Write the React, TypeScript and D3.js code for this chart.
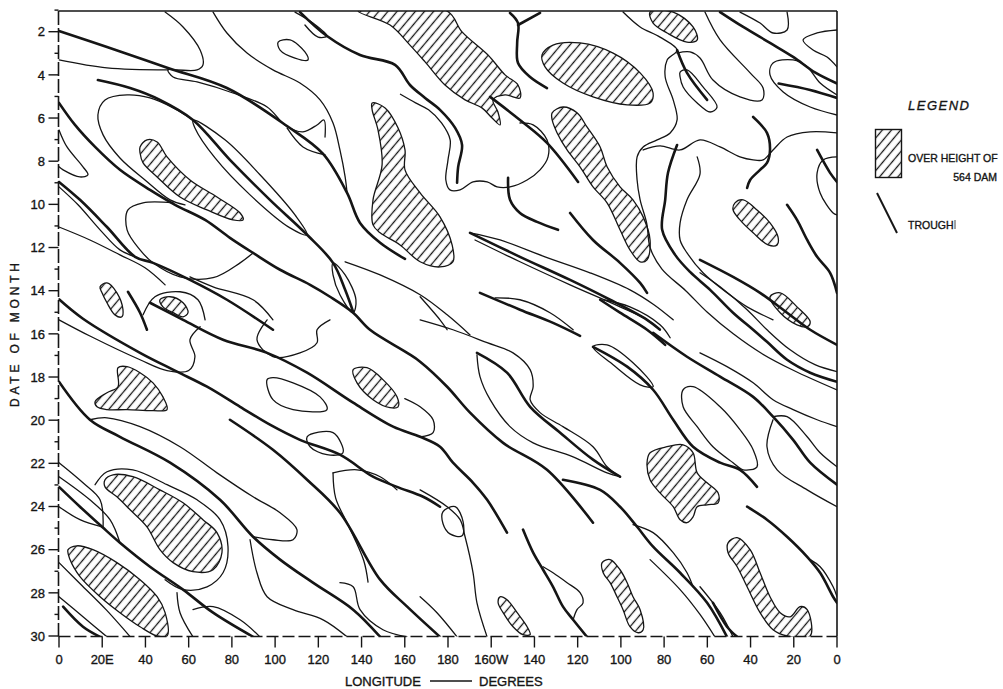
import * as d3 from "d3";

type Pt = [number, number]; // [longitude east 0..360, date of month]

const longitudeTicks = d3.range(0, 361, 20);
const longitudeLabels = ["0", "20E", "40", "60", "80", "100", "120", "140", "160", "180", "160W", "140", "120", "100", "80", "60", "40", "20", "0"];
const dateTicks = d3.range(1, 31);
const dateLabels = d3.range(2, 31, 2);

// bold lines: troughs
const troughLines: Pt[][] = [
  [[0, 1.97], [22.2, 2.71], [50.4, 3.68], [77.7, 4.61], [105.5, 6.37], [122.2, 7.66], [133.3, 9.47], [139.3, 10.86], [148.6, 11.78], [160.1, 12.53]],
  [[111.5, 1.09], [124, 2.2], [139.3, 3.08], [155.5, 3.54], [162.4, 4.47], [169.4, 5.07], [176.3, 5.62], [183.3, 6.46], [186.5, 7.25], [184.7, 8.26], [184.2, 9.0]],
  [[18, 4.24], [32.9, 4.61], [46.7, 5.16], [62, 6.09], [79.1, 7.94], [97.6, 9.79], [114.8, 11.41], [126.8, 12.71], [132.4, 13.96], [136.1, 14.98]],
  [[0, 5.3], [7.4, 6.32], [16.7, 7.34], [28.2, 8.4], [42.1, 9.33], [53.7, 10.02], [67.6, 10.72], [79.1, 11.55], [89.8, 12.25], [102.3, 13.03], [116.2, 13.73], [125.4, 14.28], [136.1, 15.02], [143.9, 15.81], [161.1, 16.88], [167.1, 17.29], [179.6, 18.45], [190.2, 19.65], [205.5, 21.05], [225.8, 22.3], [247.1, 24.75]],
  [[0, 8.96], [9.7, 9.79], [22.2, 11.05], [35.2, 12.43], [43.5, 12.71], [60.6, 13.5], [77.7, 14.42], [99, 15.81]],
  [[31.9, 14.05], [37.5, 15.02], [40.7, 15.81]],
  [[199.5, 5.02], [213.3, 6.09], [225.8, 7.15], [240.2, 8.96]],
  [[207.8, 8.77], [208.7, 9.79], [213.3, 10.4], [221.2, 10.81], [230.9, 11.18]],
  [[208.7, 1.13], [212.4, 1.6], [212, 2.52], [212.4, 3.45], [218, 4.1], [225.8, 4.61]],
  [[222.6, 1.13], [212.4, 1.69]],
  [[286, 2.85], [290.6, 3.91], [299.9, 5.16]],
  [[305.9, 1.09], [316.6, 1.78], [329, 2.52], [339.7, 3.17], [350, 3.9], [360, 4.4]],
  [[333, 4.4], [347.6, 4.7], [360, 5.07]],
  [[321.2, 5.95], [327.6, 6.69], [329, 7.48], [327.6, 8.08], [324.4, 8.4], [319.8, 8.87], [318.4, 9.24]],
  [[350.8, 7.48], [356.8, 8.54], [360, 8.96]],
  [[336.9, 10.02], [341.5, 10.72], [346.2, 11.65], [350.8, 12.43], [356.8, 13.17], [360, 14.1]],
  [[296.6, 12.57], [311.9, 13.36], [324.4, 14.1], [336.9, 15.02], [347.6, 15.81], [360, 16.51]],
  [[286, 7.25], [281.8, 8.54], [280.5, 9.79], [279.1, 11.18], [285.1, 12.34], [292, 13.13], [301.3, 13.96], [311.9, 15.02], [321.2, 15.81], [327.6, 16.37], [336.9, 17.2], [347.6, 17.8], [360, 18.22]],
  [[236.5, 10.4], [247.1, 11.65], [259.6, 12.71], [268.9, 13.64], [272.1, 14.1]],
  [[190.2, 11.32], [213.3, 12.43], [236.5, 13.5], [255, 14.42], [272.1, 15.35], [278, 15.8]],
  [[194.8, 14.1], [213.3, 14.88], [228.6, 15.49], [241.1, 16.09]],
  [[250.4, 14.42], [259.6, 15.02], [272.1, 15.81], [280.5, 16.51]],
  [[42.1, 14.56], [57.4, 15.35], [75.9, 16.27], [96.3, 16.88], [114.8, 17.8], [136.1, 19.19], [154.6, 20.3], [167.1, 20.77], [176.3, 21.23], [182.3, 21.97], [191.6, 22.9], [198.1, 23.69], [207.3, 25.21]],
  [[0, 14.4], [11.1, 15.3], [37.5, 16.88], [54.6, 17.75], [68.5, 18.45], [83.8, 19.38], [97.6, 20.21], [111.5, 20.91], [130, 21.6], [145.3, 22.62], [156.4, 23.09], [168.5, 23.55], [176.3, 24.01]],
  [[0, 18.22], [14.3, 19.98], [28.2, 20.77], [51.4, 21.97], [74.5, 23.69], [89.8, 25.4], [102.3, 26.46], [117.5, 27.53], [136.1, 28.78], [148.6, 30.04]],
  [[0, 23.09], [9.7, 24.01], [19.9, 24.94], [28.2, 25.68], [42.1, 26.79], [57.4, 27.85], [71.3, 28.92], [89.8, 30.04]],
  [[1.9, 28.64], [11.1, 29.57], [19, 30.04]],
  [[79.1, 19.98], [99, 21.37], [114.8, 22.76], [130, 24.29], [148.6, 27.39], [161.1, 28.64], [176.3, 30.04]],
  [[193.4, 16.88], [207.3, 17.8], [218, 19.38], [231.9, 20.58], [247.1, 21.83], [259.6, 22.62]],
  [[214.7, 25.07], [219.4, 26.14], [224, 26.93], [228.6, 27.72], [233.2, 28.64], [237.9, 29.25], [244.3, 30.04]],
  [[233.2, 22.76], [250.4, 23.23], [259.6, 24.01], [267.5, 24.94], [274.9, 25.86], [287.4, 27.07], [299.9, 28.46], [309.1, 30.04]],
  [[247.1, 16.6], [262.9, 17.52], [274.9, 18.59], [284.2, 19.98], [293.4, 21.23], [305.9, 21.97], [315.1, 22.3], [323, 23.09]],
  [[274.9, 15.95], [290.6, 17.06], [305.9, 17.98], [321.2, 18.92], [330.4, 19.84], [339.7, 20.91], [347.6, 21.97], [360, 22.99]],
  [[318.4, 24.01], [327.6, 24.61], [336.9, 25.4], [346.2, 26.33], [352.2, 27.07], [358.2, 28.18], [360, 28.46]],
  [[302.6, 28.46], [309.1, 29.57], [313.8, 30.04]],
];

// thin open contours
const contourLines: Pt[][] = [
  [[0, 3.31], [22.2, 3.68], [50.4, 3.77]],
  [[49.1, 1.09], [57.4, 1.78], [65.3, 2.85], [66.6, 3.54], [63.9, 3.77], [54.6, 3.77], [50.4, 3.77], [52.8, 4.1], [63.9, 4.33], [80.5, 4.84], [96.3, 5.49], [105.1, 6.37], [112.9, 6.64], [119.4, 6.32], [122.6, 6.09], [123.1, 6.88]],
  [[105.5, 6.46], [112.9, 7.34], [123.1, 7.71]],
  [[71.3, 1.09], [77.7, 2.06], [87, 2.99], [99, 3.77], [111.5, 4.38], [120.8, 5.16], [126.8, 6.23], [130, 7.48], [132.4, 8.73], [133.3, 9.47]],
  [[109.2, 1.09], [117.5, 1.6], [124, 2.2], [119.9, 2.25], [113.8, 1.69]],
  [[62, 6.09], [52.8, 5.53], [42.1, 5.07], [31.5, 4.93], [21.3, 5.16], [18, 5.86], [20.4, 6.78], [28.2, 7.85], [39.8, 8.87], [51.4, 9.79], [58.3, 10.02]],
  [[0, 6.55], [3.7, 7.34], [11.1, 8.26], [13.4, 8.63], [9.7, 8.73], [1.9, 8.4], [0, 8.26]],
  [[0, 9.19], [8.8, 10.02], [19, 11.18], [28.2, 12.11], [35.2, 12.43]],
  [[0, 11.05], [14.3, 11.65], [28.2, 12.34], [39.8, 12.94], [49.1, 13.73]],
  [[52.8, 9.93], [38.9, 9.93], [31.9, 10.26], [31.5, 11.18], [37.5, 12.11], [43.5, 12.71], [56, 13.36], [71.3, 13.4], [83.8, 12.71], [89.8, 12.25]],
  [[60.6, 13.36], [71.3, 13.82], [89.8, 14.42], [99, 15.35]],
  [[38.9, 15.12], [44.4, 14.28], [56, 14.05], [64.3, 14.42], [67.6, 15.35]],
  [[213.3, 6.23], [219.4, 6.32], [225.8, 7.01], [226.3, 7.8], [222.6, 8.4], [216.6, 8.87], [208.7, 9.19], [202.7, 9.19], [198.1, 8.96], [191.6, 8.96], [185.6, 9.33], [180.9, 9.33], [179, 8.87], [180, 7.94], [181, 7.01], [177, 6.23], [171, 5.62], [165, 5.3], [158, 4.9]],
  [[261, 1.09], [268.9, 1.78], [278.1, 2.25], [286, 2.85], [281.4, 3.31], [280.5, 4.1], [284.2, 5.16], [286, 6.09], [282.8, 6.69], [276.8, 7.01], [270.3, 7.34], [267.5, 7.8], [267.5, 8.87], [268.9, 9.79], [272, 10.9], [273.5, 12], [279, 13], [290, 14], [300, 15], [312, 16], [325, 16.9], [340, 17.7], [360, 18.6]],
  [[286, 2.99], [292, 2.94], [296.6, 3.22], [302.6, 4.24], [315.1, 5.02], [325.3, 5.16], [325.8, 4.61], [319.8, 3.91], [305.9, 2.38], [298.9, 1.09]],
  [[315.1, 1.09], [324.4, 1.6], [330.4, 2.06], [336.9, 1.92], [336.9, 1.09]],
  [[360, 1.92], [350.8, 2.06], [344.3, 2.38], [348.9, 2.85], [355.4, 3.17], [360, 3.63]],
  [[360, 4.93], [352.2, 4.38], [346.2, 3.63], [339.7, 3.31], [330.4, 3.45], [329, 4.0], [335.1, 4.79], [347.6, 5.49], [360, 5.86]],
  [[270.3, 7.48], [278.1, 7.29], [287.4, 7.48], [296.6, 7.01], [305.9, 7.34], [315.1, 7.8], [321.2, 7.94], [325.8, 7.94], [330.4, 7.48], [336.9, 6.88], [347.6, 6.64], [360, 6.69]],
  [[360, 7.8], [353.6, 7.94], [350.8, 8.54], [352.2, 9.47], [358.2, 10.4], [360, 10.49]],
  [[295.3, 7.8], [296.6, 8.6], [290.6, 9.79], [287.4, 10.86], [287.4, 11.65], [290.6, 12.25], [298, 13.17], [309.1, 14.1], [318.4, 14.75], [330.4, 15.35]],
  [[296.6, 13.17], [305.9, 13.82], [318.4, 14.88], [327.6, 15.81], [338.3, 16.74], [349.8, 17.43], [360, 17.75]],
  [[190.2, 11.32], [204.1, 11.65], [224.9, 12.43], [245.7, 13.17], [264.2, 13.96], [275.3, 14.65], [284.2, 15.35]],
  [[192.5, 11.65], [213.3, 12.66], [236.5, 13.73], [259.6, 14.75], [272.1, 15.35], [278, 15.8]],
  [[201.8, 14.33], [213.3, 14.42], [227.2, 15.02], [237.9, 15.81]],
  [[251.8, 14.42], [264.2, 14.75], [278.1, 15.58], [282.8, 16.18]],
  [[132.4, 12.66], [148.6, 13.27], [167.1, 14.19], [179.6, 15.12], [190.2, 16.05]],
  [[167.1, 14.28], [176.3, 15.35], [179.6, 15.81]],
  [[0, 15.35], [14.3, 16.1], [37.5, 17.2], [50, 17.7], [60, 17.7], [62.9, 17.06], [60.6, 16.27], [65.3, 15.67]],
  [[14.3, 19.98], [22.2, 19.89], [37.5, 20.3], [56, 21.23], [73.1, 22.44], [89.8, 23.55], [102.3, 24.29], [110.1, 25.07], [108.3, 25.54], [99, 25.54], [89.8, 25.4]],
  [[16.7, 22.99], [22.2, 22.39], [34.2, 22.3], [50, 22.99], [63.9, 23.69], [74.5, 24.61], [78.2, 25.86], [75.9, 27.07], [68.5, 27.72], [57.4, 27.85], [49.1, 27.39]],
  [[0, 21.97], [11.1, 22.9], [19, 23.69], [20.4, 24.94]],
  [[0, 22.62], [14.3, 23.69], [23.6, 24.61], [28.2, 25.68]],
  [[0, 24.01], [9.7, 24.61], [19.9, 24.94]],
  [[0, 28.18], [11.1, 29.11], [22.2, 30.04]],
  [[0, 26.6], [10, 27.6], [22, 28.8], [33, 30.04]],
  [[62, 28.78], [71.3, 28.64], [83.8, 29.25], [93, 30.04]],
  [[54.6, 27.99], [56, 28.92], [62, 30.04]],
  [[88.4, 25.54], [91.6, 27.07], [96.3, 28.18], [108.3, 28.78], [122.2, 29.25], [133.3, 30.04]],
  [[130, 27.53], [136.1, 27.72], [139.3, 28.78], [149.9, 29.71], [161.1, 30.04]],
  [[126.8, 22.44], [128, 23.6], [134, 24.9], [141, 26.5], [143, 27.5]],
  [[126.8, 22.44], [137.9, 22.3], [148.6, 22.62], [156.4, 23.23]],
  [[96.3, 15.35], [91.6, 16.27], [99, 17.06], [111.5, 16.88], [119.4, 16.41], [119.4, 15.81], [125.4, 15.35]],
  [[167.1, 15.35], [182.3, 15.81], [198.1, 16.41], [210.1, 16.88], [218, 17.66], [219.4, 18.45], [218, 19.05], [222.6, 19.65], [233.2, 20.3], [247.1, 21.23], [253.6, 22.16], [259.6, 22.62]],
  [[193.4, 16.97], [194.8, 17.98], [199.5, 19.05], [208.7, 20.3], [219.4, 21.05], [237.9, 21.7], [253.6, 22.44], [259.6, 22.62]],
  [[167.1, 23.23], [179.6, 24.01], [185.6, 24.61], [187.9, 25.4], [191.6, 27.07], [193.4, 28.46], [198.1, 30.04]],
  [[160, 19.0], [167.1, 19.38], [173.1, 19.98], [173.1, 20.58], [167.1, 20.77]],
  [[224, 26.79], [228.6, 27.07], [235.1, 27.53], [241.1, 27.99], [242.5, 28.46], [239.7, 28.78], [237.9, 29.25]],
  [[265.6, 24.84], [274.9, 25.21], [284.2, 26.14], [290.6, 27.07], [293.4, 27.72]],
  [[330.4, 19.84], [336.9, 19.84], [346.2, 20.77], [352.2, 21.51], [360, 22.16]],
  [[330.4, 19.98], [327.6, 21.23], [332.3, 22.3], [346.2, 23.23], [360, 24.01]],
  [[296.6, 16.88], [309.1, 17.52], [321.2, 18.27], [330.4, 19.05], [339.7, 19.51], [350.8, 19.98], [360, 20.3]],
  [[347.6, 26.46], [352.2, 26.79], [358.2, 27.72], [360, 28.18]],
  [[167.1, 28.18], [174.9, 28.92], [184.2, 30.04]],
  [[296.6, 27.72], [305.9, 28.92], [311.9, 30.04]],
  [[273.5, 26.46], [287.4, 27.85], [296.6, 29.0], [303.5, 30.04]],
];

// thin closed contours
const closedContours: Pt[][] = [
  [[101.4, 2.48], [106.9, 2.38], [113.8, 2.94], [115.2, 3.31], [109.2, 3.22], [102.3, 2.85]],
  [[62, 6.09], [76.8, 7.01], [93, 8.63], [109.2, 10.49], [114.8, 11.41], [106.9, 11.09], [88.4, 9.56], [72.2, 7.85], [62.9, 6.46]],
  [[126.8, 12.71], [132.4, 13.27], [137.4, 14.42], [136.1, 15.02], [130, 14.19], [126.8, 13.27]],
  [[287.4, 3.87], [290.6, 3.77], [298, 4.56], [304.5, 5.49], [301.3, 5.72], [295.3, 5.3], [288.8, 4.56], [287.4, 4.1]],
  [[96.3, 18.12], [99, 19.05], [108.3, 19.51], [124, 19.51], [120.8, 18.92], [108.3, 18.27], [99, 18.03]],
  [[114.8, 20.77], [126.8, 20.58], [131.4, 21.51], [124, 21.6], [116.2, 21.23]],
  [[177.7, 24.24], [183.3, 24.01], [187, 24.71], [186.5, 25.36], [180.9, 25.27], [177.7, 24.8]],
  [[247.1, 16.6], [253.6, 16.51], [265.6, 17.34], [274.9, 18.45], [268.9, 18.36], [256.4, 17.43]],
  [[288.8, 18.59], [293.4, 18.45], [305.9, 19.38], [315.1, 20.44], [321.2, 21.37], [323, 22.16], [316.6, 22.3], [311.9, 21.97], [302.6, 21.23], [295.3, 20.3], [288.8, 19.38]],
];

// hatched: over height of 564 dam
const hatchedAreas: Pt[][] = [
  [[138.4, 1.04], [153.2, 1.69], [162.4, 2.62], [169.4, 3.4], [178.6, 4.47], [187.9, 5.16], [195.7, 5.53], [200.4, 6.0], [204.1, 6.32], [203.1, 5.72], [200.8, 5.16], [206.4, 4.93], [213.3, 5.07], [212.4, 4.47], [206.4, 4.0], [198.5, 3.08], [186.5, 2.01], [179.5, 1.04]],
  [[144.9, 5.3], [150.9, 5.53], [156.9, 6.46], [160.1, 7.48], [160.1, 8.4], [167.1, 9.47], [176.3, 10.58], [181.9, 11.88], [182.3, 12.66], [176.3, 12.9], [167.1, 12.66], [157.8, 11.88], [148.6, 11.32], [145.3, 10.95], [145.3, 9.79], [149.5, 8.17], [147.6, 6.55], [144.9, 5.62]],
  [[37.5, 7.34], [40.7, 7.01], [45.4, 7.11], [50, 7.8], [60.6, 8.87], [73.1, 9.66], [83.8, 10.4], [85.2, 10.72], [80.5, 10.72], [68.5, 10.26], [56, 9.66], [45.4, 8.73], [38.9, 8.08], [37.5, 7.62]],
  [[223.5, 3.08], [228.6, 2.62], [241.1, 2.52], [256.4, 2.99], [268.9, 3.91], [274.9, 4.84], [273.5, 5.3], [262.9, 5.39], [247.1, 5.02], [233.2, 4.38], [224.9, 3.63]],
  [[228.2, 5.76], [233.2, 5.49], [239.7, 5.76], [244.3, 6.41], [250.4, 7.34], [253.6, 8.26], [259.6, 9.19], [265.6, 9.79], [270.3, 10.58], [273.5, 11.65], [272.1, 12.57], [268.9, 12.66], [264.2, 12.11], [259.6, 11.18], [253.6, 9.93], [247.1, 9.19], [241.1, 8.26], [235.1, 7.48], [230.5, 6.69], [228.2, 6.09]],
  [[273.5, 1.09], [284.2, 1.09], [293.4, 1.78], [295.3, 2.38], [290.6, 2.48], [281.4, 2.06], [274.9, 1.6]],
  [[312.8, 9.93], [316.6, 9.79], [323, 10.26], [329, 10.86], [332.7, 11.51], [332.3, 11.88], [328.1, 11.88], [321.2, 11.32], [315.1, 10.72], [311.9, 10.26]],
  [[329, 14.28], [333.7, 14.1], [341.5, 14.75], [347.6, 15.44], [346.2, 15.67], [341.5, 15.58], [333.7, 15.02]],
  [[19, 13.82], [22.2, 13.64], [26.8, 14.1], [29.6, 14.88], [29.1, 15.21], [25.9, 15.12], [22.2, 14.56], [19.9, 14.1]],
  [[46.7, 14.42], [51.4, 14.28], [57.4, 14.56], [59.7, 15.02], [57.4, 15.21], [52.8, 15.02], [48.1, 14.75]],
  [[16.7, 19.14], [22.2, 18.73], [27.3, 18.45], [27.3, 17.57], [31.5, 17.52], [37.5, 17.8], [43.5, 18.27], [48.1, 18.92], [50, 19.51], [43.5, 19.56], [31.5, 19.51], [22.2, 19.51], [17.6, 19.38]],
  [[136.1, 17.66], [142.5, 17.57], [149.9, 18.12], [156.4, 18.92], [156.9, 19.38], [153.2, 19.42], [145.3, 19.05], [137.9, 18.27]],
  [[21.3, 22.76], [25, 22.53], [34.2, 22.62], [46.7, 23.23], [57.4, 23.83], [66.6, 24.61], [73.1, 25.21], [75.4, 26.14], [71.3, 26.93], [62, 27.02], [52.8, 26.6], [46.7, 26.0], [40.7, 24.94], [32.9, 24.15], [26.8, 23.55], [21.3, 23.09]],
  [[4.2, 26.0], [8.3, 25.82], [15.7, 26.0], [26.8, 26.6], [37.5, 27.39], [45.4, 28.18], [49.1, 28.92], [50, 30.0], [45.4, 30.0], [37.5, 29.57], [28.2, 28.92], [19, 28.18], [9.7, 27.25], [5.1, 26.46]],
  [[204.1, 28.18], [207.3, 28.32], [212, 28.92], [216.6, 29.57], [218, 29.94], [214.7, 29.94], [210.1, 29.57], [205.5, 28.92], [203.2, 28.46]],
  [[251.3, 26.6], [255, 26.46], [259.6, 26.93], [262.9, 27.53], [265.6, 28.18], [268.9, 28.78], [270.3, 29.71], [268, 29.85], [264.2, 29.57], [261, 28.78], [258.2, 28.18], [255, 27.53], [251.8, 27.07]],
  [[273.5, 21.51], [281.4, 21.23], [288.8, 21.14], [293.4, 21.51], [295.3, 22.44], [299.9, 22.9], [305, 23.37], [305, 23.83], [299.9, 23.92], [295.3, 24.01], [293.4, 24.48], [290.6, 24.75], [287.4, 24.61], [284.2, 24.01], [278.1, 23.37], [273.5, 22.76], [272.1, 21.97]],
  [[309.6, 25.68], [313.8, 25.44], [319.8, 26.0], [324.4, 27.07], [329, 28.18], [333.7, 28.92], [338.3, 29.11], [342.9, 28.64], [346.2, 28.78], [347.6, 30.0], [336.9, 30.0], [330.4, 29.71], [324.4, 28.92], [318.4, 27.72], [313.8, 26.79], [309.6, 26.14]],
];

const INK = "#151515";
const FONT = "'Liberation Sans', Arial, sans-serif";

export default function App() {
  const left = 58.5;
  const right = 837;
  const top = 11;
  const bottom = 636.5;

  const x = d3.scaleLinear().domain([0, 360]).range([59, 837]);
  const y = d3.scaleLinear().domain([2, 30]).range([31.7, 636]);

  const openLine = d3
    .line<Pt>()
    .x((d) => x(d[0]))
    .y((d) => y(d[1]))
    .curve(d3.curveCatmullRom.alpha(0.5));
  const closedLine = d3
    .line<Pt>()
    .x((d) => x(d[0]))
    .y((d) => y(d[1]))
    .curve(d3.curveCatmullRomClosed.alpha(0.5));

  // scanned-print look: slightly heavier glyphs
  const textInk = { fill: INK, stroke: INK, strokeWidth: 0.35 };

  return (
    <svg
      width={1003}
      height={689}
      style={{ position: "absolute", left: 0, top: 0, background: "#fff" }}
      fontFamily={FONT}
    >
      <defs>
        <pattern id="hatch" patternUnits="userSpaceOnUse" width={7} height={7} patternTransform="rotate(40)">
          <line x1={3.5} y1={0} x2={3.5} y2={7} stroke={INK} strokeWidth={1.3} />
        </pattern>
        <clipPath id="plotClip">
          <rect x={left} y={top} width={right - left} height={bottom - top} />
        </clipPath>
      </defs>

      <g clipPath="url(#plotClip)">
        {hatchedAreas.map((pts, i) => (
          <path key={`h-${i}`} d={closedLine(pts) ?? ""} fill="url(#hatch)" stroke={INK} strokeWidth={1.3} />
        ))}
        {closedContours.map((pts, i) => (
          <path key={`cc-${i}`} d={closedLine(pts) ?? ""} fill="none" stroke={INK} strokeWidth={1.3} />
        ))}
        {contourLines.map((pts, i) => (
          <path key={`c-${i}`} d={openLine(pts) ?? ""} fill="none" stroke={INK} strokeWidth={1.3} strokeLinecap="round" />
        ))}
        {troughLines.map((pts, i) => (
          <path key={`t-${i}`} d={openLine(pts) ?? ""} fill="none" stroke={INK} strokeWidth={2.6} strokeLinecap="round" />
        ))}
      </g>

      {/* frame */}
      <line x1={left} y1={top} x2={right} y2={top} stroke={INK} strokeWidth={1.6} />
      <line x1={right} y1={top} x2={right} y2={bottom} stroke={INK} strokeWidth={1.6} />
      <line x1={left} y1={top} x2={left} y2={bottom} stroke={INK} strokeWidth={1.6} strokeDasharray="14 3" />
      <line x1={left} y1={bottom} x2={right} y2={bottom} stroke={INK} strokeWidth={1.6} strokeDasharray="12 4" />

      {/* y axis */}
      {dateTicks.map((d) => (
        <line
          key={`yt-${d}`}
          x1={d % 2 === 0 ? left - 10 : left - 4}
          x2={left}
          y1={y(d)}
          y2={y(d)}
          stroke={INK}
          strokeWidth={1.4}
        />
      ))}
      {dateLabels.map((d) => (
        <text key={`yl-${d}`} x={45} y={y(d)} dy="0.36em" textAnchor="end" fontSize={13} {...textInk}>
          {d}
        </text>
      ))}
      <text
        transform={`translate(19, 335) rotate(-90)`}
        textAnchor="middle"
        fontSize={12}
        textLength={144}
        lengthAdjust="spacing"
        {...textInk}
      >
        DATE OF MONTH
      </text>

      {/* x axis */}
      {longitudeTicks.map((lon) => (
        <line key={`xt-${lon}`} x1={x(lon)} x2={x(lon)} y1={bottom} y2={bottom + 11} stroke={INK} strokeWidth={1.4} />
      ))}
      {longitudeTicks.map((lon, i) => (
        <text key={`xl-${lon}`} x={x(lon)} y={664} textAnchor="middle" fontSize={13} {...textInk}>
          {longitudeLabels[i]}
        </text>
      ))}
      <text x={345} y={686} fontSize={13} {...textInk}>
        LONGITUDE
      </text>
      <line x1={430} x2={472} y1={681} y2={681} stroke={INK} strokeWidth={1.4} />
      <text x={479} y={686} fontSize={13} {...textInk}>
        DEGREES
      </text>

      {/* legend */}
      <text x={908} y={110} fontSize={13} fontStyle="italic" letterSpacing={1.5} {...textInk}>
        LEGEND
      </text>
      <rect x={875.5} y={129.5} width={26} height={48} fill="url(#hatch)" stroke={INK} strokeWidth={1.4} />
      <text x={908} y={162} fontSize={10.5} {...textInk}>
        OVER HEIGHT OF
      </text>
      <text x={997} y={181} fontSize={10.5} textAnchor="end" {...textInk}>
        564 DAM
      </text>
      <line x1={877} y1={193} x2={897} y2={233} stroke={INK} strokeWidth={2} />
      <text x={908} y={229} fontSize={10.5} {...textInk}>
        TROUGH
      </text>
      <line x1={955} x2={955} y1={220} y2={229} stroke={INK} strokeWidth={0.8} />
    </svg>
  );
}
